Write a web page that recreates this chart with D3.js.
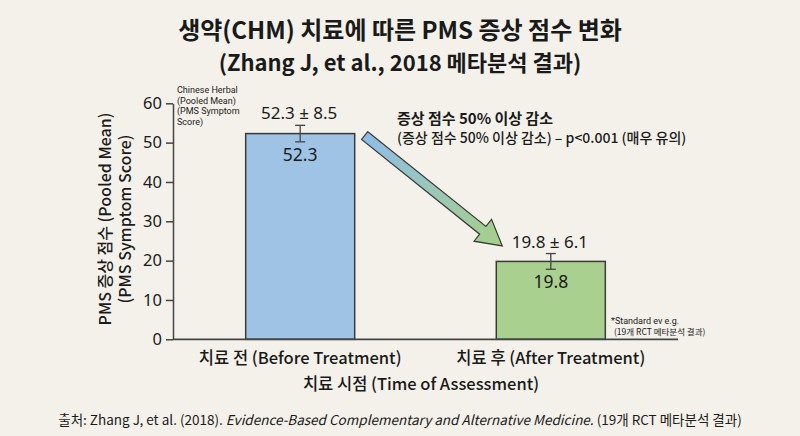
<!DOCTYPE html>
<html>
<head>
<meta charset="utf-8">
<script src="https://cdn.jsdelivr.net/npm/d3@7"></script>
<style>
  html, body { margin: 0; padding: 0; background: #f3f1ea; }
  svg { display: block; }
  text { font-family: "Noto Sans CJK KR", "Noto Sans", sans-serif; fill: #1a1a1a; }
  .num { font-family: "Noto Sans", "Noto Sans CJK KR", sans-serif; }
</style>
</head>
<body>
<svg id="chart" width="800" height="436"></svg>
<script>
// data
const categories = ["치료 전 (Before Treatment)", "치료 후 (After Treatment)"];
const means = [52.3, 19.8];
const sds = [8.5, 6.1];
const whisker = [2.1, 2.0]; // drawn error-bar half length (as pictured)
const barColors = ["#9fc3e5", "#a9d08e"];
const yTicks = [0, 10, 20, 30, 40, 50, 60];

const svg = d3.select("#chart");
const W = 800, H = 436;
const plotLeft = 173, plotRight = 678, plotTop = 103.3, plotBottom = 339.3;

svg.append("rect").attr("width", W).attr("height", H).attr("fill", "#f3f1ea");

const x = d3.scaleBand().domain(categories).range([plotLeft, plotRight])
  .paddingInner(0.565).paddingOuter(0.29);
const y = d3.scaleLinear().domain([0, 60]).range([plotBottom, plotTop]);

// title
svg.append("text").attr("x", 400).attr("y", 39).attr("text-anchor", "middle")
  .attr("font-size", 24).attr("font-weight", 700)
  .text("생약(CHM) 치료에 따른 PMS 증상 점수 변화");
svg.append("text").attr("x", 400).attr("y", 71).attr("text-anchor", "middle")
  .attr("font-size", 22).attr("font-weight", 700)
  .text("(Zhang J, et al., 2018 메타분석 결과)");

// y axis
const yAxis = svg.append("g").attr("transform", `translate(${plotLeft},0)`)
  .call(d3.axisLeft(y).tickValues(yTicks).tickSize(7).tickPadding(4).tickSizeOuter(0));
yAxis.select(".domain").attr("stroke", "#444").attr("stroke-width", 1.5);
yAxis.selectAll(".tick line").attr("stroke", "#444").attr("stroke-width", 1.5);
yAxis.selectAll(".tick text").attr("font-size", 16.5).attr("fill", "#1a1a1a")
  .style("font-family", "'Noto Sans', sans-serif");

// y label
const yl = svg.append("text").attr("transform", `translate(111,219) rotate(-90)`)
  .attr("text-anchor", "middle").attr("font-size", 16).attr("font-weight", 500);
yl.append("tspan").attr("x", 0).attr("dy", 0).text("PMS 증상 점수 (Pooled Mean)");
yl.append("tspan").attr("x", 0).attr("dy", 20).text("(PMS Symptom Score)");

// bars
svg.selectAll("rect.bar").data(categories).enter().append("rect")
  .attr("class", "bar")
  .attr("x", d => x(d))
  .attr("y", (d, i) => y(means[i]))
  .attr("width", x.bandwidth())
  .attr("height", (d, i) => y(0) - y(means[i]))
  .attr("fill", (d, i) => barColors[i])
  .attr("stroke", "#3a3a3a").attr("stroke-width", 1.5);

// x baseline
svg.append("line").attr("x1", plotLeft).attr("x2", plotRight).attr("y1", y(0)).attr("y2", y(0))
  .attr("stroke", "#444").attr("stroke-width", 1.8);

// error bars
const eb = svg.selectAll("g.err").data(categories).enter().append("g").attr("class", "err")
  .attr("stroke", "#444").attr("stroke-width", 1.3);
eb.append("line")
  .attr("x1", d => x(d) + x.bandwidth() / 2).attr("x2", d => x(d) + x.bandwidth() / 2)
  .attr("y1", (d, i) => y(means[i] + whisker[i])).attr("y2", (d, i) => y(means[i] - whisker[i]));
[1, -1].forEach(s => {
  eb.append("line")
    .attr("x1", d => x(d) + x.bandwidth() / 2 - 5).attr("x2", d => x(d) + x.bandwidth() / 2 + 5)
    .attr("y1", (d, i) => y(means[i] + s * whisker[i])).attr("y2", (d, i) => y(means[i] + s * whisker[i]));
});

// labels above and inside bars
svg.selectAll("text.top").data(categories).enter().append("text")
  .attr("class", "num")
  .attr("x", d => x(d) + x.bandwidth() / 2 - 1)
  .attr("y", (d, i) => y(means[i] + whisker[i]) - 6)
  .attr("text-anchor", "middle").attr("font-size", 17)
  .text((d, i) => `${means[i].toFixed(1)} ± ${sds[i].toFixed(1)}`);
svg.selectAll("text.in").data(categories).enter().append("text")
  .attr("class", "num")
  .attr("x", d => x(d) + x.bandwidth() / 2)
  .attr("y", (d, i) => y(means[i]) + 27)
  .attr("text-anchor", "middle").attr("font-size", 17.5)
  .text((d, i) => means[i].toFixed(1));

// x tick labels
svg.selectAll("text.cat").data(categories).enter().append("text")
  .attr("x", d => x(d) + x.bandwidth() / 2)
  .attr("y", 364).attr("text-anchor", "middle").attr("font-size", 16.5).attr("font-weight", 500)
  .text(d => d);

svg.append("text").attr("x", 421).attr("y", 390).attr("text-anchor", "middle")
  .attr("font-size", 16.5).attr("font-weight", 500).text("치료 시점 (Time of Assessment)");

// arrow from first bar toward second bar
const defs = svg.append("defs");
const ax0 = x(categories[0]) + x.bandwidth() + 10, ay0 = y(means[0]) + 2;
const ax1 = x(categories[1]) + 6, ay1 = y(means[1]) - 15.5;
const ang = Math.atan2(ay1 - ay0, ax1 - ax0);
const len = Math.hypot(ax1 - ax0, ay1 - ay0);
const grad = defs.append("linearGradient").attr("id", "ag")
  .attr("gradientUnits", "userSpaceOnUse")
  .attr("x1", 0).attr("y1", 0).attr("x2", len).attr("y2", 0);
grad.append("stop").attr("offset", "0%").attr("stop-color", "#8fbde8");
grad.append("stop").attr("offset", "100%").attr("stop-color", "#a6d087");

const sw = 5, hw = 14, hl = 25;
const pts = [[0, -sw], [len - hl, -sw], [len - hl, -hw], [len, 0], [len - hl, hw], [len - hl, sw], [0, sw]];
svg.append("polygon")
  .attr("points", pts.map(p => p.join(",")).join(" "))
  .attr("transform", `translate(${ax0},${ay0}) rotate(${ang * 180 / Math.PI})`)
  .attr("fill", "url(#ag)").attr("stroke", "#3a3a3a").attr("stroke-width", 1.2)
  .attr("stroke-linejoin", "miter");

// annotation
svg.append("text").attr("x", 397).attr("y", 124).attr("font-size", 15).attr("font-weight", 700)
  .text("증상 점수 50% 이상 감소");
svg.append("text").attr("x", 397).attr("y", 143).attr("font-size", 14).attr("font-weight", 500)
  .text("(증상 점수 50% 이상 감소) – p<0.001 (매우 유의)");

// small notes
const note = svg.append("text").attr("x", 177).attr("y", 93).attr("font-size", 9)
  .style("font-family", "Roboto, 'Noto Sans', sans-serif");
["Chinese Herbal", "(Pooled Mean)", "(PMS Symptom", "Score)"].forEach((t, i) => {
  note.append("tspan").attr("x", 177).attr("dy", i ? 10.7 : 0).text(t);
});
svg.append("text").attr("x", 611).attr("y", 324).attr("font-size", 9)
  .style("font-family", "Roboto, 'Noto Sans CJK KR', sans-serif")
  .text("*Standard ev e.g.");
svg.append("text").attr("x", 614).attr("y", 335).attr("font-size", 8.5)
  .text("(19개 RCT 메타분석 결과)");

// source
const src = svg.append("text").attr("x", 400).attr("y", 425).attr("text-anchor", "middle")
  .attr("font-size", 13.5);
src.append("tspan").text("출처: Zhang J, et al. (2018). ");
src.append("tspan").attr("font-style", "italic").text("Evidence-Based Complementary and Alternative Medicine.");
src.append("tspan").text(" (19개 RCT 메타분석 결과)");
</script>
</body>
</html>
